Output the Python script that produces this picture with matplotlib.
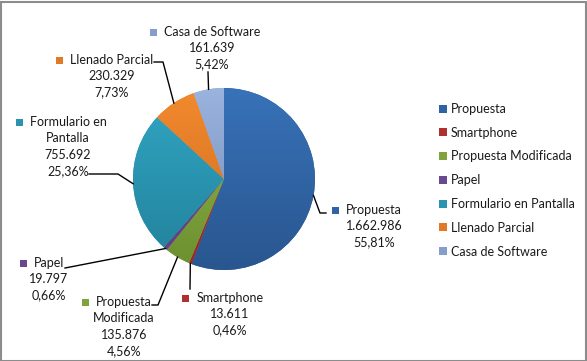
import matplotlib
matplotlib.use("Agg")
import matplotlib.pyplot as plt
import numpy as np
from matplotlib.colors import to_rgb
from matplotlib.patches import Rectangle

plt.rcParams['font.family'] = ['Lato', 'DejaVu Sans']

# Datos del grafico
categorias = ['Propuesta', 'Smartphone', 'Propuesta Modificada', 'Papel',
              'Formulario en Pantalla', 'Llenado Parcial', 'Casa de Software']
valores = [1662986, 13611, 135876, 19797, 755692, 230329, 161639]
etiquetas = ['Propuesta', 'Smartphone', 'Propuesta\nModificada', 'Papel',
             'Formulario en\nPantalla', 'Llenado Parcial', 'Casa de Software']

# colores (arriba, abajo) para el degradado
colores_sup = ['#3872B8', '#BC3431', '#92B848', '#7452A0', '#31A6C4', '#F28A2E', '#9AB4DE']
colores_inf = ['#29568F', '#982826', '#6C8F30', '#5C3F80', '#22819A', '#CC6A1E', '#7088B8']
colores = ['#2F63A4', '#B03030', '#80A33C', '#684890', '#2A94B0', '#E07A26', '#859ECB']

W, H = 587, 361
cx, cy_img, r = 224, 179, 91


def Y(y):
    # coordenadas de imagen -> coordenadas del eje
    return H - y


def fmt_miles(v):
    return f"{v:,}".replace(",", ".")


fig = plt.figure(figsize=(W / 100, H / 100), dpi=100)
ax = fig.add_axes([0, 0, 1, 1])

wedges, _ = ax.pie(valores, colors=colores, startangle=90, counterclock=False,
                   center=(cx, Y(cy_img)), radius=r,
                   wedgeprops=dict(linewidth=0))
ax.set_xlim(0, W)
ax.set_ylim(0, H)
ax.set_aspect('equal')
ax.axis('off')

# degradado vertical en cada porcion
for w, c1, c2 in zip(wedges, colores_sup, colores_inf):
    t = np.linspace(0, 1, 200)[:, None]
    grad = (1 - t) * np.array(to_rgb(c1)) + t * np.array(to_rgb(c2))
    im = ax.imshow(grad[:, None, :], extent=[cx - r, cx + r, Y(cy_img) - r, Y(cy_img) + r],
                   origin='upper', aspect='auto', zorder=2)
    im.set_clip_path(w)

total = sum(valores)
porcentajes = [v / total * 100 for v in valores]

# posicion de etiquetas: centro x, y de la primera linea (pixeles de imagen)
pos_etiq = [(374, 210), (230, 298), (124, 302), (49, 263), (68, 122), (112, 60), (212, 32)]
# puntos de la linea guia del lado de la etiqueta
guias = [[(326, 213), (320, 213)],
         [(190, 289)],
         [(152, 305), (158, 305)],
         [(65, 268)],
         [(89, 174), (118, 174)],
         [(154, 62), (163, 62)],
         [(208, 72)]]

fs = 9
lh = 16.3
renderer = fig.canvas.get_renderer()
ang = 90
for i, v in enumerate(valores):
    frac = v / total
    mid = ang - frac * 180
    ang -= frac * 360
    ex = cx + r * np.cos(np.radians(mid))
    ey = Y(cy_img) + r * np.sin(np.radians(mid))
    pts = [(x, Y(y)) for x, y in guias[i]] + [(ex, ey)]
    ax.plot([p[0] for p in pts], [p[1] for p in pts], color='black', lw=1, zorder=3)

    lx, ly = pos_etiq[i]
    lineas = etiquetas[i].split('\n') + [fmt_miles(v), f"{porcentajes[i]:.2f}".replace('.', ',') + '%']
    for k, linea in enumerate(lineas):
        t = ax.text(lx, Y(ly + k * lh), linea, ha='center', va='center', fontsize=fs,
                    color='#1a1a1a', zorder=4)
        if k == 0:
            bb = t.get_window_extent(renderer)
            ax.add_patch(Rectangle((bb.x0 - 14, Y(ly) - 3.5), 7, 7, facecolor=colores[i],
                                   edgecolor='none', zorder=4))

leg = fig.legend(wedges, categorias, loc='upper left', bbox_to_anchor=(439 / W, 1 - 103 / H),
                 frameon=False, fontsize=fs, handlelength=0.6, handleheight=0.6,
                 handletextpad=0.35, labelspacing=0.94, borderpad=0, borderaxespad=0)
for txt in leg.get_texts():
    txt.set_color('#1a1a1a')

fig.patches.append(Rectangle((0.5 / W, 0.5 / H), 1 - 2 / W, 1 - 2 / H, transform=fig.transFigure,
                             fill=False, edgecolor='#8C8C8C', lw=1.5))

fig.savefig('out.png', dpi=100)
